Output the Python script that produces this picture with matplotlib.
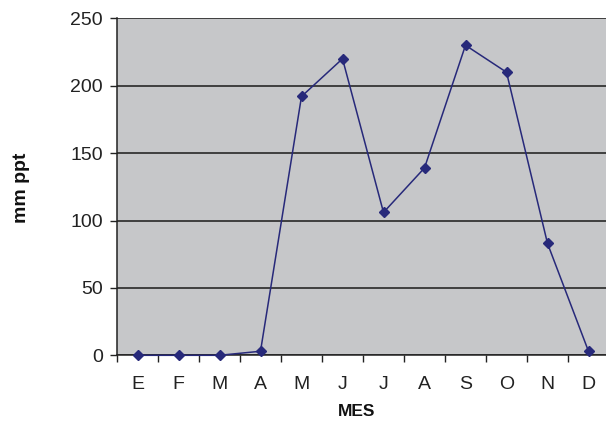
import matplotlib
matplotlib.use("Agg")
import matplotlib.pyplot as plt
from matplotlib.ticker import FixedLocator, NullFormatter

months = ["E", "F", "M", "A", "M", "J", "J", "A", "S", "O", "N", "D"]
precip = [0, 0, 0, 3, 192, 220, 106, 139, 230, 210, 83, 3]
yticks = [0, 50, 100, 150, 200, 250]

plt.rcParams['font.family'] = ['Liberation Sans', 'DejaVu Sans']

fig = plt.figure(figsize=(6.06, 4.21), dpi=100)
ax = fig.add_axes([117 / 606, 65.7 / 421, 492 / 606, 337 / 421])
ax.set_facecolor('#C6C7C9')

x = list(range(len(months)))
ax.plot(x, precip, color='#27297A', lw=1.1, marker='D', markersize=5.2,
        markerfacecolor='#27297A', markeredgecolor='#27297A', zorder=3, clip_on=False)

ax.set_xlim(-0.5, len(months) - 0.5)
ax.set_ylim(0, 250)
ax.set_yticks(yticks)
ax.yaxis.grid(True, color='#1a1a1a', lw=1.1)
ax.set_axisbelow(True)

ax.set_xticks(x)
ax.set_xticklabels(months, fontsize=14, color='#222222')
ax.xaxis.set_minor_locator(FixedLocator([i - 0.5 for i in range(len(months) + 1)]))
ax.xaxis.set_minor_formatter(NullFormatter())
ax.tick_params(axis='x', which='major', length=0, pad=15)
ax.tick_params(axis='x', which='minor', length=5, width=1, direction='out', color='#222222')
ax.tick_params(axis='y', length=5, width=1, direction='out', pad=5, labelsize=14,
               colors='#222222')

for s in ['top', 'right']:
    ax.spines[s].set_visible(False)
for s in ['left', 'bottom']:
    ax.spines[s].set_color('#222222')
    ax.spines[s].set_linewidth(1.1)

fig.text(357 / 606, 1 - 411 / 421, "MES", fontsize=12.5, fontweight='bold',
         ha='center', va='center', color='#111111')
fig.text(22 / 606, 1 - 188 / 421, "mm ppt", fontsize=14, fontweight='bold',
         ha='center', va='center', rotation=90, color='#111111')

fig.savefig("out.png", dpi=100)
